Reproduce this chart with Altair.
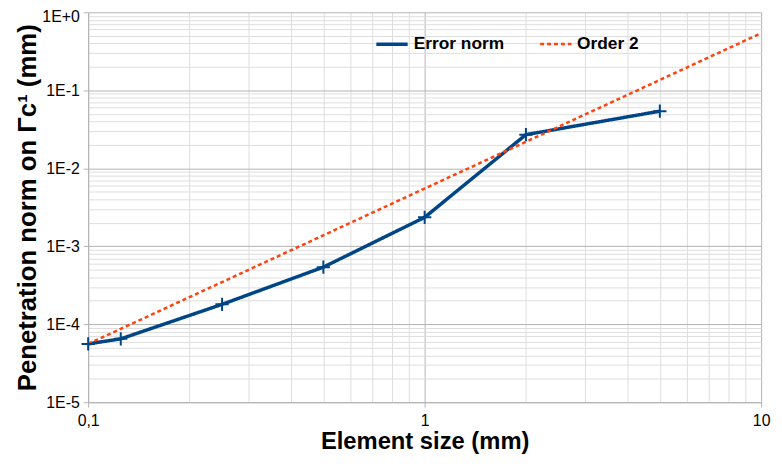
import altair as alt
import pandas as pd

# ---- data ----
element_size = [0.1, 0.125, 0.25, 0.5, 1, 2, 5]
error_norm = [5.6e-5, 6.5e-5, 1.8e-4, 5.4e-4, 2.35e-3, 2.7e-2, 5.4e-2]
order2_x = [0.1, 10]
order2_y = [5.6e-5, 0.54]

series_names = ["Error norm", "Order 2"]
x_tick_values = [0.1, 1, 10]
x_tick_labels = ["0,1", "1", "10"]
y_tick_values = [1e-5, 1e-4, 1e-3, 1e-2, 1e-1, 1]
y_tick_labels = ["1E-5", "1E-4", "1E-3", "1E-2", "1E-1", "1E+0"]

BLUE = "#004586"
ORANGE = "#ff420e"
FONT = "Liberation Sans"

df_err = pd.DataFrame({"x": element_size, "y": error_norm, "series": series_names[0]})
df_ord = pd.DataFrame({"x": order2_x, "y": order2_y, "series": series_names[1]})
df_all = pd.concat([df_err, df_ord], ignore_index=True)

# all grid values (decades + minors)
x_grid = []
for d in [0.1, 1]:
    for k in range(1, 10):
        x_grid.append(round(d * k, 6))
x_grid.append(10)
y_grid = []
for d in [1e-5, 1e-4, 1e-3, 1e-2, 1e-1]:
    for k in range(1, 10):
        y_grid.append(float(f"{d * k:.6g}"))
y_grid.append(1.0)

is_decade = "abs(log(datum.value)/LN10 - round(log(datum.value)/LN10)) < 0.001"


def label_expr(vals, labels):
    expr = "''"
    for v, l in zip(reversed(vals), reversed(labels)):
        expr = f"abs(datum.value - {v}) < {v}*0.001 ? '{l}' : " + expr
    return expr


x_axis = alt.Axis(
    values=x_grid,
    labelExpr=label_expr(x_tick_values, x_tick_labels),
    title="Element size (mm)",
    titleFont=FONT, titleFontSize=24, titleFontWeight="bold", titleColor="#000000",
    titlePadding=2,
    labelFont=FONT, labelFontSize=16, labelColor="#000000", labelPadding=5,
    labelFlush=False, labelOverlap=False,
    gridColor={"condition": {"test": is_decade, "value": "#b3b3b3"}, "value": "#dedede"},
    tickColor={"condition": {"test": is_decade, "value": "#b3b3b3"}, "value": "transparent"},
    tickSize=5, domainColor="#b3b3b3",
)
y_axis = alt.Axis(
    values=y_grid,
    labelExpr=label_expr(y_tick_values, y_tick_labels),
    title="Penetration norm on Γc¹ (mm)",
    titleFont=FONT, titleFontSize=26, titleFontWeight="bold", titleColor="#000000",
    titlePadding=1,
    labelFont=FONT, labelFontSize=16, labelColor="#000000", labelPadding=4,
    labelOffset={"condition": {"test": "datum.value >= 0.999", "value": 4}, "value": 0},
    labelFlush=False, labelOverlap=False,
    gridColor={"condition": {"test": is_decade, "value": "#b3b3b3"}, "value": "#dedede"},
    tickColor={"condition": {"test": is_decade, "value": "#b3b3b3"}, "value": "transparent"},
    tickSize=5, domainColor="#b3b3b3",
)

x_enc = alt.X("x:Q", scale=alt.Scale(type="log", domain=[0.1, 10]), axis=x_axis)
y_enc = alt.Y("y:Q", scale=alt.Scale(type="log", domain=[1e-5, 1]), axis=y_axis)

legend_cfg = dict(
    title=None, orient="none", legendX=289, legendY=14, direction="horizontal",
    symbolType="stroke", symbolSize=1000, symbolStrokeWidth=3,
    labelFont=FONT, labelFontSize=17.5, labelFontWeight="bold", labelColor="#000000",
    columnPadding=30, labelOffset=4,
)
color_enc = alt.Color(
    "series:N",
    scale=alt.Scale(domain=series_names, range=[BLUE, ORANGE]),
    legend=alt.Legend(**legend_cfg),
)
dash_enc = alt.StrokeDash(
    "series:N",
    scale=alt.Scale(domain=series_names, range=[[1, 0], [4, 3]]),
    legend=alt.Legend(**legend_cfg),
)
width_enc = alt.StrokeWidth(
    "series:N", scale=alt.Scale(domain=series_names, range=[3.5, 2.5]), legend=None
)

lines = alt.Chart(df_all).mark_line(clip=True).encode(
    x=x_enc, y=y_enc, color=color_enc, strokeDash=dash_enc, strokeWidth=width_enc,
    detail="series:N",
)

points = alt.Chart(df_err).mark_point(
    shape="M-1,0L1,0M0,-1L0,1", size=180, filled=False, strokeWidth=2, color=BLUE, opacity=1
).encode(x=alt.X("x:Q", scale=alt.Scale(type="log", domain=[0.1, 10])),
         y=alt.Y("y:Q", scale=alt.Scale(type="log", domain=[1e-5, 1])))

chart = alt.layer(lines, points).properties(
    width=680, height=394,
    autosize=alt.AutoSizeParams(type="none"),
    padding={"left": 81, "top": 2, "right": 13, "bottom": 56},
    background="#ffffff",
).configure_view(stroke=None)

chart.save("out.html", embed_options={"renderer": "svg", "actions": False})
